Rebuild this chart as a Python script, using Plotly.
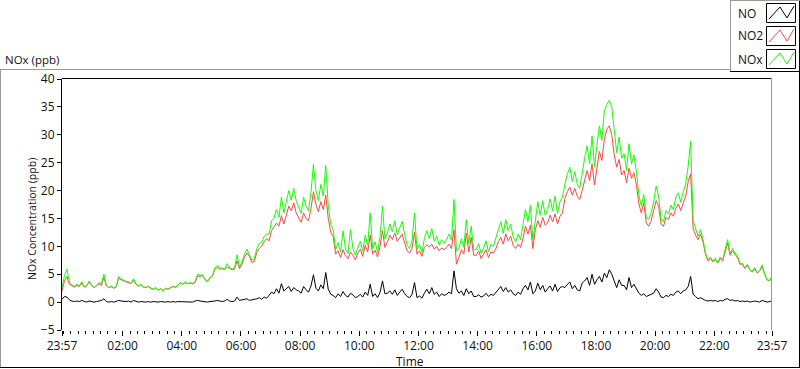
import pandas as pd
import plotly.graph_objects as go

# ---------------- data (5-minute samples from 23:57 to 23:57 next day) ----------------
start_time = "2000-01-01 23:57"
step = "5min"

no = [
    0.5, 1.0, 0.9, 0.4, 0.2, 0.1, 0.2, 0.1, 0.3, 0.1, 0.0, 0.2,
    0.1, 0.0, 0.1, 0.2, 0.3, 0.6, 0.1, 0.0, 0.1, 0.0, 0.1, 0.3,
    0.2, 0.1, 0.1, 0.2, 0.0, 0.3, 0.1, 0.0, 0.1, 0.0, 0.0, 0.1,
    0.0, 0.1, 0.0, 0.0, 0.1, 0.0, 0.0, 0.1, 0.0, 0.1, 0.0, 0.1,
    0.1, 0.0, 0.1, 0.0, 0.1, 0.0, 0.2, 0.3, 0.2, 0.1, 0.1, 0.0,
    0.1, 0.1, 0.2, 0.3, 0.2, 0.1, 0.2, 0.5, 0.2, 0.1, 0.2, 0.9,
    0.3, 0.4, 0.5, 0.6, 0.3, 0.4, 0.4, 0.6, 0.8, 0.5, 0.9, 0.7,
    1.2, 1.8, 1.5, 2.4, 1.6, 3.3, 2.0, 2.5, 2.8, 1.9, 2.6, 2.2,
    2.0, 1.6, 2.8, 2.2, 1.8, 2.9, 4.9, 2.5, 2.0, 3.1, 2.4, 5.3,
    2.3, 1.4, 1.2, 0.8, 1.5, 1.0, 1.9, 1.2, 0.9, 1.6, 1.3, 0.8,
    1.0, 1.4, 0.9, 1.8, 1.2, 3.2, 1.0, 1.5, 0.8, 1.7, 3.8, 1.5,
    1.6, 2.0, 1.4, 2.2, 1.2, 1.8, 2.3, 1.5, 1.0, 0.8, 1.4, 3.5,
    0.8, 1.1, 0.7, 1.6, 2.3, 1.5, 2.6, 1.4, 1.8, 1.0, 1.5, 1.2,
    1.4, 1.8, 1.5, 5.6, 2.4, 1.6, 2.0, 1.2, 2.4, 1.5, 2.0, 1.0,
    1.0, 1.3, 0.9, 1.1, 1.6, 1.0, 1.4, 1.2, 1.7, 2.2, 2.8, 1.9,
    2.6, 1.8, 2.2, 1.5, 1.2, 1.8, 1.4, 2.4, 3.0, 2.2, 3.6, 1.5,
    2.0, 3.4, 2.2, 3.0, 1.8, 2.4, 2.9, 2.0, 3.2, 1.9, 2.6, 2.8,
    2.6, 3.2, 3.6, 2.4, 3.0, 2.2, 2.0, 3.4, 3.8, 4.4, 3.0, 5.0,
    3.2, 4.0, 4.6, 3.6, 5.2, 4.4, 5.8, 5.0, 3.8, 2.6, 4.0, 3.0,
    3.0, 2.2, 4.4, 2.6, 3.2, 2.4, 1.6, 1.2, 1.5, 1.0, 1.2, 1.4,
    1.6, 2.4, 1.8, 0.9, 0.8, 1.2, 1.0, 1.4, 1.2, 1.8, 2.0, 1.5,
    2.0, 2.2, 2.8, 4.6, 1.4, 1.0, 0.6, 0.8, 0.5, 0.3, 0.2, 0.3,
    0.2, 0.3, 0.1, 0.3, 0.2, 0.5, 0.6, 0.3, 0.4, 0.2, 0.3, 0.1,
    0.2, 0.1, 0.2, 0.0, 0.1, 0.2, 0.1, 0.0, 0.3, 0.1, 0.0, 0.1, 0.2,
]

no2 = [
    2.0, 3.8, 4.6, 3.2, 2.9, 2.7, 3.0, 2.8, 3.4, 2.7, 2.9, 3.6,
    3.0, 2.6, 2.9, 3.3, 3.0, 4.4, 2.9, 2.6, 2.8, 2.5, 2.7, 4.3,
    4.0, 3.8, 3.6, 3.5, 3.3, 3.9, 3.2, 2.9, 3.1, 2.7, 2.6, 2.8,
    2.5, 2.3, 2.6, 2.2, 2.4, 2.1, 2.5, 2.3, 2.6, 2.8, 2.7, 3.1,
    3.4, 3.2, 3.5, 3.3, 3.4, 3.3, 3.5, 4.7, 4.6, 4.8, 4.0, 3.7,
    4.3, 4.6, 5.9, 6.2, 5.9, 6.0, 5.8, 6.3, 6.0, 5.8, 5.9, 7.4,
    6.0, 6.8, 8.0, 8.8, 8.2, 7.1, 7.3, 8.9, 9.6, 10.1, 10.8, 11.4,
    11.0, 12.8, 13.5, 14.2, 13.6, 15.5, 14.0, 15.8, 17.2, 16.4, 17.8, 16.0,
    15.2, 14.3, 16.0, 15.0, 14.6, 16.8, 19.8, 17.5, 16.2, 18.0, 16.6, 19.2,
    15.0, 12.5, 11.8, 8.6, 9.2, 8.0, 9.4, 8.3, 7.8, 9.0, 8.4, 7.6,
    8.8, 9.5, 8.2, 10.2, 9.0, 12.0, 8.6, 9.3, 8.1, 10.0, 12.8, 9.8,
    10.8, 12.0, 11.2, 12.4, 10.9, 11.6, 12.2, 10.6, 9.2, 8.8, 9.6, 12.5,
    8.6, 9.2, 8.2, 9.8, 10.3, 9.9, 10.4, 9.5, 10.0, 9.2, 9.7, 9.4,
    9.8, 10.4, 9.6, 13.0, 6.8, 8.0, 9.4, 8.6, 12.4, 9.0, 11.6, 8.4,
    8.4, 9.2, 7.8, 8.6, 9.4, 8.0, 9.0, 8.8, 9.6, 10.8, 11.6, 10.4,
    12.2, 11.0, 11.8, 10.2, 9.6, 10.4, 9.8, 11.4, 13.6, 12.2, 13.8, 9.6,
    13.0, 14.6, 13.4, 15.2, 13.8, 14.2, 15.6, 14.4, 15.8, 14.0, 15.4, 16.0,
    18.6, 19.8, 20.6, 19.2, 20.4, 19.0, 18.4, 20.0, 22.0, 23.6, 21.8, 24.8,
    21.0, 24.2, 27.0, 25.4, 29.2, 31.0, 31.6, 30.0, 26.4, 24.2, 25.6, 22.8,
    23.6, 21.4, 24.0, 22.2, 23.2, 21.0, 17.6, 16.0, 17.8, 14.2, 13.6, 14.6,
    16.4, 18.2, 17.2, 14.0, 13.6, 15.2, 14.8, 16.0, 15.4, 16.8, 17.6, 16.4,
    17.8, 19.0, 21.6, 23.0, 13.2, 12.0, 11.2, 12.2, 10.8, 8.6, 7.4, 7.8,
    7.2, 7.6, 7.0, 7.8, 7.4, 9.0, 10.6, 8.4, 9.2, 8.6, 8.0, 6.8,
    6.8, 6.0, 6.6, 5.8, 5.4, 6.0, 5.2, 5.6, 6.4, 5.0, 4.0, 3.8, 4.4,
]

nox = [
    2.5, 4.8, 5.9, 3.6, 3.1, 2.8, 3.2, 2.9, 3.7, 2.8, 2.9, 3.8,
    3.1, 2.6, 3.0, 3.5, 3.3, 5.0, 3.0, 2.6, 2.9, 2.5, 2.8, 4.6,
    4.2, 3.9, 3.7, 3.7, 3.3, 4.2, 3.3, 2.9, 3.2, 2.7, 2.6, 2.9,
    2.4, 2.3, 2.5, 2.1, 2.4, 2.0, 2.4, 2.3, 2.5, 2.8, 2.6, 3.1,
    3.5, 3.2, 3.6, 3.3, 3.5, 3.3, 3.7, 5.0, 4.8, 4.9, 4.1, 3.7,
    4.4, 4.7, 6.1, 6.6, 6.1, 6.1, 6.0, 6.9, 6.2, 5.9, 6.1, 8.5,
    6.3, 7.2, 8.6, 9.5, 8.6, 7.5, 7.8, 9.6, 10.5, 10.7, 11.8, 12.2,
    12.2, 14.6, 15.0, 16.6, 15.2, 18.8, 16.0, 18.3, 20.0, 18.3, 20.4, 18.2,
    17.2, 15.9, 18.8, 17.2, 16.4, 19.7, 24.7, 20.0, 18.2, 21.1, 19.0, 24.5,
    17.3, 13.9, 13.0, 9.4, 10.7, 9.0, 12.8, 9.5, 8.7, 13.0, 9.7, 8.4,
    9.8, 10.9, 9.1, 12.0, 10.2, 16.0, 9.6, 10.8, 8.9, 11.7, 17.2, 11.3,
    12.4, 14.0, 12.6, 14.6, 12.1, 13.4, 14.5, 12.1, 10.2, 9.6, 11.0, 16.0,
    9.4, 10.3, 8.9, 11.4, 12.8, 11.4, 13.2, 10.9, 11.8, 10.2, 11.2, 10.6,
    11.2, 12.2, 11.1, 18.4, 9.2, 9.6, 11.4, 9.8, 14.8, 10.5, 13.6, 9.4,
    9.4, 10.5, 8.7, 9.7, 11.0, 9.0, 10.4, 10.0, 11.3, 13.0, 14.4, 12.3,
    14.8, 12.8, 14.0, 11.7, 10.8, 12.2, 11.2, 13.8, 16.6, 14.4, 17.4, 11.1,
    15.0, 18.0, 15.6, 18.2, 15.6, 16.6, 18.5, 16.4, 19.0, 15.9, 18.0, 18.8,
    21.2, 23.0, 24.2, 21.6, 23.4, 21.2, 20.4, 23.4, 25.8, 28.0, 24.8, 29.8,
    24.2, 28.2, 31.6, 29.0, 34.4, 35.4, 36.2, 35.0, 30.2, 26.8, 29.6, 25.8,
    26.6, 23.6, 28.4, 24.8, 26.4, 23.4, 19.2, 17.2, 19.3, 15.2, 14.8, 16.0,
    18.0, 20.8, 19.0, 14.9, 14.4, 16.4, 15.8, 17.4, 16.6, 18.8, 19.6, 17.9,
    19.8, 21.2, 24.4, 28.8, 14.6, 13.0, 11.8, 13.0, 11.3, 8.9, 7.6, 8.1,
    7.4, 7.9, 7.1, 8.1, 7.6, 9.5, 11.2, 8.7, 9.6, 8.8, 8.3, 6.9,
    7.0, 6.1, 6.8, 5.8, 5.5, 6.2, 5.3, 5.6, 6.7, 5.1, 4.0, 3.9, 4.6,
]

tick_labels = ["23:57", "02:00", "04:00", "06:00", "08:00", "10:00", "12:00",
               "14:00", "16:00", "18:00", "20:00", "22:00", "23:57"]
tick_times = ["2000-01-01 23:57", "2000-01-02 02:00", "2000-01-02 04:00",
              "2000-01-02 06:00", "2000-01-02 08:00", "2000-01-02 10:00",
              "2000-01-02 12:00", "2000-01-02 14:00", "2000-01-02 16:00",
              "2000-01-02 18:00", "2000-01-02 20:00", "2000-01-02 22:00",
              "2000-01-02 23:57"]
series_names = ["NO", "NO2", "NOx"]
series_colors = ["#000000", "#ff4545", "#14ff00"]

times = pd.date_range(start_time, periods=len(no2), freq=step)

# ---------------- figure ----------------
W, H = 800, 369
L, R, T, B = 62, 772, 79, 330
FONT = "Open Sans"


def px(x):
    return (x - L) / (R - L)


def py(y):
    return (B - y) / (B - T)


fig = go.Figure()
for name, vals, col in zip(series_names, [no, no2, nox], series_colors):
    fig.add_trace(go.Scatter(x=times, y=vals, mode="lines", name=name,
                             line=dict(color=col, width=1), showlegend=False,
                             hoverinfo="skip"))

fig.update_layout(
    width=W, height=H,
    margin=dict(l=L, r=W - R, t=T, b=H - B, pad=0),
    paper_bgcolor="white", plot_bgcolor="white",
    font=dict(family=FONT, size=12, color="#111"),
)
fig.update_xaxes(
    range=[tick_times[0], tick_times[-1]],
    tickmode="array", tickvals=tick_times, ticktext=tick_labels,
    ticks="outside", ticklen=5, tickwidth=1, tickcolor="black",
    showgrid=False, zeroline=False, showline=False,
    tickfont=dict(family=FONT, size=12, color="#111"),
    minor=dict(ticks="outside", ticklen=3, tickcolor="black", tickwidth=1,
               tickmode="linear", tick0="2000-01-02 00:00", dtick=15 * 60 * 1000),
)
fig.update_yaxes(
    range=[-5, 40], tickmode="linear", tick0=0, dtick=5,
    ticks="outside", ticklen=4, tickwidth=1, tickcolor="black",
    showgrid=False, zeroline=False, showline=True, linecolor="black", linewidth=1,
    tickfont=dict(family=FONT, size=12, color="#111"),
)

shapes = []


def hline(y, x0, x1, color):
    shapes.append(dict(type="line", xref="paper", yref="paper",
                       x0=px(x0), x1=px(x1), y0=py(y), y1=py(y),
                       line=dict(color=color, width=1), layer="above"))


def vline(x, y0, y1, color):
    shapes.append(dict(type="line", xref="paper", yref="paper",
                       x0=px(x), x1=px(x), y0=py(y0), y1=py(y1),
                       line=dict(color=color, width=1), layer="above"))


# plot-area border (top black, right gray)
hline(78.5, 62, 772, "black")
vline(771.5, 78, 330, "#9a9a9a")
# outer panel frame
hline(69.5, 0, 730, "#9a9a9a")
vline(0.5, 69, 368, "#9a9a9a")
hline(367.5, 0, 800, "black")
vline(799.5, 0, 368, "black")
# legend box
hline(0.5, 730, 800, "#9a9a9a")
vline(730.5, 0, 71, "#9a9a9a")
hline(71.5, 730, 800, "black")

annotations = []
legend_rows = [13, 36, 59]
for name, col, yc in zip(series_names, series_colors, legend_rows):
    x0, x1 = 766.5, 795.5
    y0, y1 = yc - 9.5, yc + 9.5
    shapes.append(dict(type="rect", xref="paper", yref="paper",
                       x0=px(x0), x1=px(x1), y0=py(y1), y1=py(y0),
                       line=dict(color="black", width=1), fillcolor="white", layer="above"))
    pts = [(769, yc + 6), (780, yc - 6), (787, yc + 5), (794, yc - 7)]
    path = "M " + " L ".join(f"{px(a):.5f},{py(b):.5f}" for a, b in pts)
    shapes.append(dict(type="path", xref="paper", yref="paper", path=path,
                       line=dict(color=col, width=1), layer="above"))
    annotations.append(dict(xref="paper", yref="paper", x=px(736), y=py(yc),
                            xanchor="left", yanchor="middle", showarrow=False,
                            text=name, font=dict(family=FONT, size=12, color="#111")))

annotations.append(dict(xref="paper", yref="paper", x=px(3), y=py(59),
                        xanchor="left", yanchor="middle", showarrow=False,
                        text="NOx (ppb)", font=dict(family=FONT, size=11.5, color="#111")))
annotations.append(dict(xref="paper", yref="paper", x=px(32), y=py(219),
                        xanchor="center", yanchor="middle", showarrow=False, textangle=-90,
                        text="NOx Concentration (ppb)", font=dict(family=FONT, size=10.5, color="#111")))
annotations.append(dict(xref="paper", yref="paper", x=px(410), y=py(361),
                        xanchor="center", yanchor="middle", showarrow=False, borderpad=0,
                        text="Time", font=dict(family=FONT, size=12, color="#111")))

fig.update_layout(shapes=shapes, annotations=annotations)
fig.write_html("out.html", config={"displayModeBar": False},
               post_script="document.body.style.margin='0';document.body.style.overflow='hidden';")
